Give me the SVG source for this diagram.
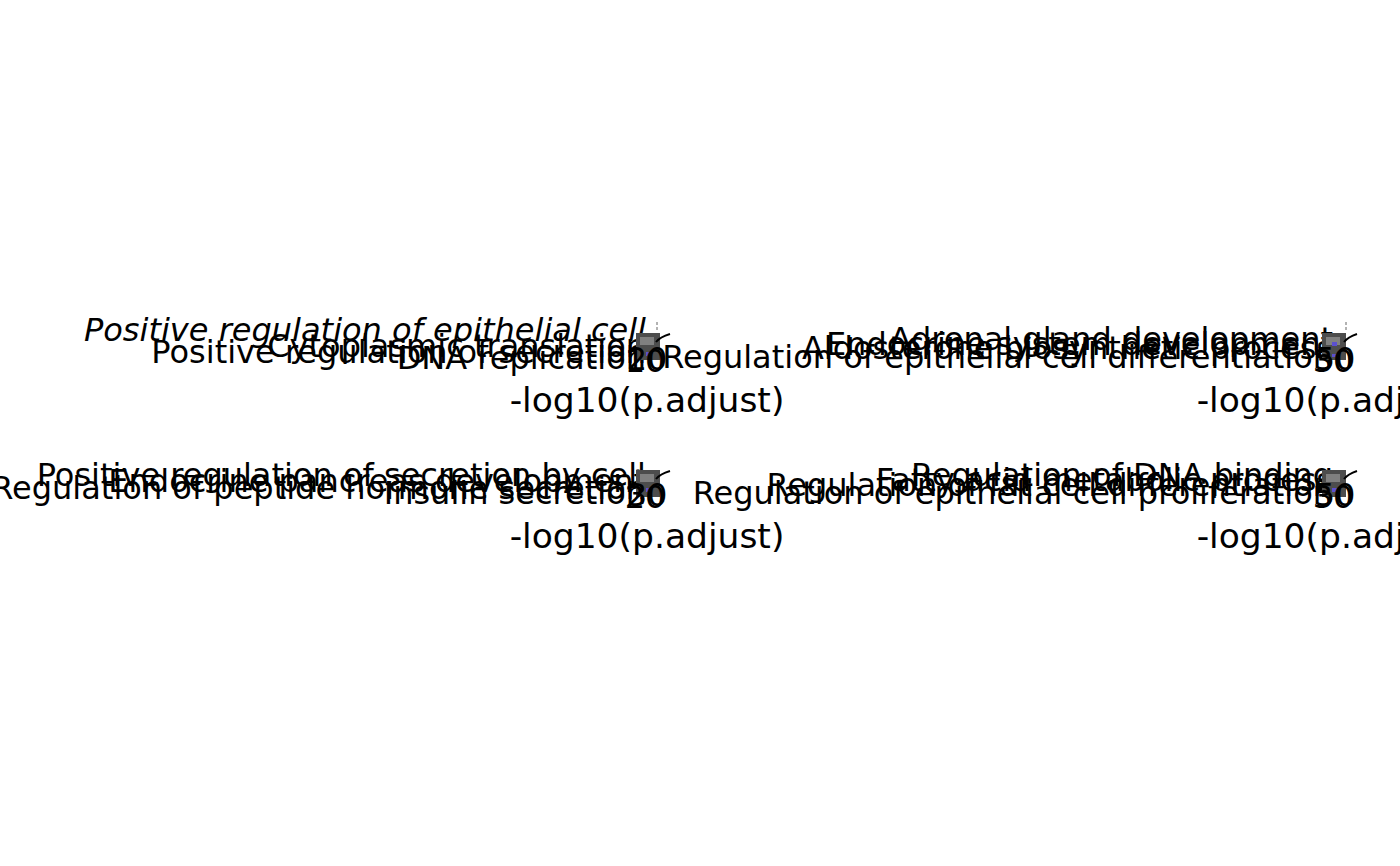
<svg xmlns="http://www.w3.org/2000/svg" width="1400" height="866" viewBox="0 0 1400 866">
<style>
.lab{font-family:"DejaVu Sans",sans-serif;font-size:32px;fill:#000;text-anchor:end}
.it{font-style:italic}
.ttl{font-family:"DejaVu Sans",sans-serif;font-size:34.5px;fill:#000;text-anchor:middle}
.tick{font-family:"DejaVu Sans",sans-serif;font-size:32px;fill:#000;text-anchor:middle}
.bar{fill:#4d4d4d}
.bar2{fill:#808080}
.dot{fill:#5b4fd0}
.key{fill:none;stroke:#000;stroke-width:2}
.dash{stroke:#666;stroke-width:1;stroke-dasharray:3 2}
</style>
<rect width="1400" height="866" fill="#fff"/>
<g id="panel-top-left">
<text class="lab it" x="646" y="341">Positive regulation of epithelial cell</text>
<text class="lab" x="646" y="357">Cytoplasmic translation</text>
<text class="lab" x="646" y="363">Positive regulation of secretion</text>
<text class="lab" x="646" y="369">DNA replication</text>
<rect class="bar" x="636" y="333" width="24" height="27"/>
<rect class="bar2" x="640" y="337" width="14" height="8"/>
<rect class="dot" x="646" y="352" width="5" height="4"/>
<path class="key" d="M670,334 Q660,337 656,342"/>
<line class="dash" x1="657" y1="322" x2="657" y2="331"/>
<text class="tick" x="645" y="372">10</text>
<text class="tick" x="647" y="370">20</text>
<text class="ttl" x="647" y="412">-log10(p.adjust)</text>
</g>
<g id="panel-top-right">
<text class="lab" x="1333" y="350">Adrenal gland development</text>
<text class="lab" x="1333" y="355">Endocrine system development</text>
<text class="lab" x="1333" y="359">Aldosterone biosynthetic process</text>
<text class="lab" x="1333" y="368">Regulation of epithelial cell differentiation</text>
<rect class="bar" x="1322" y="333" width="24" height="27"/>
<rect class="bar2" x="1326" y="337" width="14" height="8"/>
<rect class="dot" x="1332" y="342" width="5" height="4"/>
<rect class="dot" x="1332" y="354" width="5" height="3"/>
<path class="key" d="M1357,334 Q1348,337 1344,342"/>
<line class="dash" x1="1346" y1="322" x2="1346" y2="331"/>
<text class="tick" x="1333" y="372">30</text>
<text class="tick" x="1335" y="370">50</text>
<text class="ttl" x="1334" y="412">-log10(p.adjust)</text>
</g>
<g id="panel-bottom-left">
<text class="lab" x="646" y="486">Positive regulation of secretion by cell</text>
<text class="lab" x="646" y="492">Endocrine pancreas development</text>
<text class="lab" x="646" y="499">Regulation of peptide hormone secretion</text>
<text class="lab" x="646" y="504">Insulin secretion</text>
<rect class="bar" x="636" y="470" width="24" height="27"/>
<rect class="bar2" x="640" y="474" width="14" height="8"/>
<rect class="dot" x="646" y="488" width="5" height="4"/>
<path class="key" d="M670,471 Q660,474 656,479"/>
<text class="tick" x="645" y="508">20</text>
<text class="tick" x="647" y="506">30</text>
<text class="ttl" x="647" y="548">-log10(p.adjust)</text>
</g>
<g id="panel-bottom-right">
<text class="lab" x="1333" y="486">Regulation of DNA binding</text>
<text class="lab" x="1333" y="491">Fatty acid metabolic process</text>
<text class="lab" x="1333" y="496">Regulation of fat cell differentiation</text>
<text class="lab" x="1333" y="504">Regulation of epithelial cell proliferation</text>
<rect class="bar" x="1322" y="470" width="24" height="27"/>
<rect class="bar2" x="1326" y="474" width="14" height="8"/>
<rect class="dot" x="1332" y="488" width="5" height="4"/>
<path class="key" d="M1357,471 Q1348,474 1344,479"/>
<text class="tick" x="1333" y="508">30</text>
<text class="tick" x="1335" y="506">50</text>
<text class="ttl" x="1334" y="548">-log10(p.adjust)</text>
</g>
<g id="connectors"></g>
</svg>
